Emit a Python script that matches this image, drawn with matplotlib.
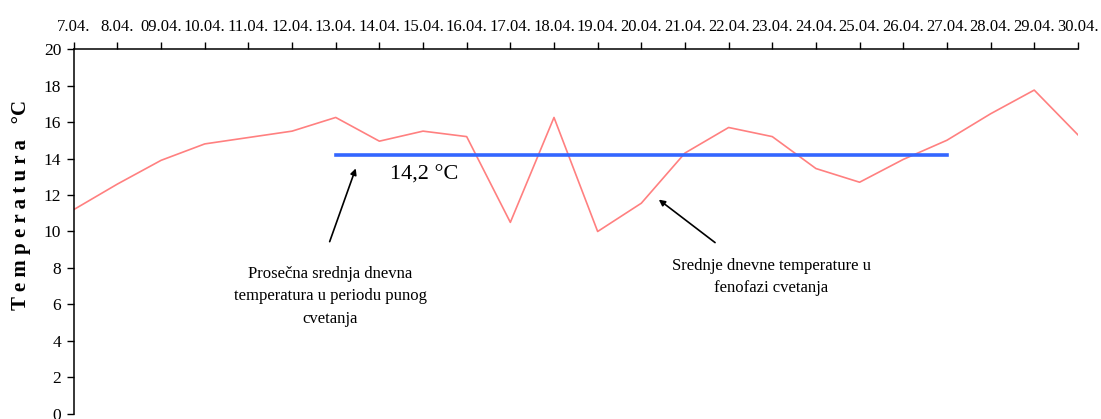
import matplotlib.pyplot as plt
import numpy as np

plt.rcParams['font.family'] = ['Liberation Serif', 'DejaVu Serif']

dates = ['7.04.', '8.04.', '09.04.', '10.04.', '11.04.', '12.04.', '13.04.', '14.04.',
         '15.04.', '16.04.', '17.04.', '18.04.', '19.04.', '20.04.', '21.04.', '22.04.',
         '23.04.', '24.04.', '25.04.', '26.04.', '27.04.', '28.04.', '29.04.', '30.04.']
temps = [11.2, 12.6, 13.9, 14.8, 15.15, 15.5, 16.25, 14.95, 15.5, 15.2, 10.5, 16.25,
         10.0, 11.55, 14.3, 15.7, 15.2, 13.45, 12.7, 13.95, 15.0, 16.45, 17.75, 15.3]
mean_temp = 14.2
mean_start = '13.04.'
mean_end = '27.04.'

x = np.arange(len(dates))

fig = plt.figure(figsize=(11.01, 4.19), dpi=100)
ax = fig.add_axes([0.067, 0.012, 0.912, 0.871])

ax.plot(x, temps, color='#ff8080', linewidth=1.2)
i0, i1 = dates.index(mean_start), dates.index(mean_end)
ax.plot([i0, i1], [mean_temp, mean_temp], color='#3366ff', linewidth=2.6)

ax.set_xlim(0, len(dates) - 1)
ax.set_ylim(0, 20)
ax.set_yticks(np.arange(0, 21, 2))
ax.xaxis.tick_top()
ax.set_xticks(x)
ax.set_xticklabels(dates)
ax.tick_params(axis='x', direction='out', length=5, width=1, pad=5, labelsize=12)
ax.tick_params(axis='y', direction='out', length=5, width=1, pad=4, labelsize=12.5)
for side in ['right', 'bottom']:
    ax.spines[side].set_visible(False)
for side in ['left', 'top']:
    ax.spines[side].set_linewidth(1.1)

ax.set_ylabel('T e m p e r a t u r a   °C', fontsize=15, fontweight='bold')
ax.yaxis.set_label_coords(-0.043, 0.573)

ax.text(8.02, 13.1, '14,2 °C', fontsize=16, ha='center', va='center')

ax.annotate('', xy=(6.48, 13.6), xytext=(5.84, 9.3),
            arrowprops=dict(arrowstyle='-|>', color='black', lw=1.2, mutation_scale=9))
ax.text(5.87, 6.45, 'Prosečna srednja dnevna\ntemperatura u periodu punog\ncvetanja',
        fontsize=12, ha='center', va='center', linespacing=1.55)

ax.annotate('', xy=(13.35, 11.84), xytext=(14.74, 9.3),
            arrowprops=dict(arrowstyle='-|>', color='black', lw=1.2, mutation_scale=9))
ax.text(15.98, 7.5, 'Srednje dnevne temperature u\nfenofazi cvetanja',
        fontsize=12, ha='center', va='center', linespacing=1.55)

fig.savefig('out.png', dpi=100)
